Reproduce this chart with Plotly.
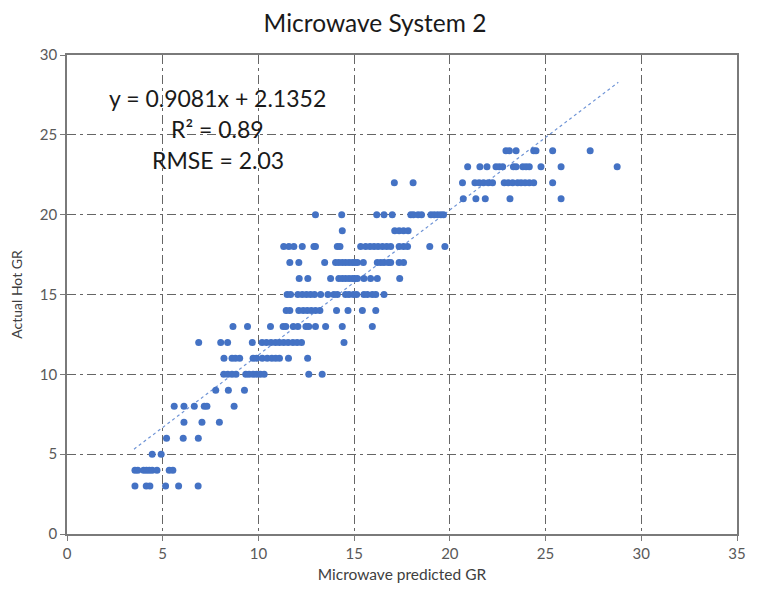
import plotly.graph_objects as go

# Microwave predicted GR values, grouped by actual hot GR (y)
pred_at_3 = [3.55, 4.14, 4.33, 5.15, 5.83, 6.85]
pred_at_4 = [3.55, 3.7, 4.0, 4.15, 4.3, 4.45, 4.7, 5.34, 5.53]
pred_at_5 = [4.45, 4.92]
pred_at_6 = [5.20, 6.07, 6.86]
pred_at_7 = [6.11, 7.05, 7.96]
pred_at_8 = [5.60, 6.11, 6.65, 7.17, 7.31, 8.73]
pred_at_9 = [7.77, 8.43, 9.27]
pred_at_10 = [8.19, 8.40, 8.62, 8.83, 9.34, 9.51, 9.72, 9.90, 10.10, 10.30, 12.63, 13.33]
pred_at_11 = [8.2, 8.62, 8.8, 9.02, 9.72, 9.9, 10.2, 10.46, 10.7, 10.9, 11.1, 11.57, 12.57]
pred_at_12 = [6.88, 8.03, 8.39, 9.68, 10.19, 10.42, 10.66, 10.89, 11.10, 11.32, 11.55,
              11.80, 12.02, 12.25, 14.47]
pred_at_13 = [8.67, 9.43, 10.63, 11.29, 11.43, 11.82, 12.06, 12.48, 12.63, 12.98, 13.51,
              14.38, 15.95]
pred_at_14 = [11.45, 11.64, 12.11, 12.34, 12.55, 12.76, 12.98, 13.21, 14.08, 14.68, 15.43, 16.13]
pred_at_15 = [11.50, 11.68, 12.06, 12.29, 12.51, 12.72, 12.93, 13.25, 13.63, 13.94, 14.12,
              14.55, 14.73, 14.96, 15.13, 15.51, 15.69, 15.95, 16.13, 16.56]
pred_at_16 = [12.13, 12.58, 13.77, 14.20, 14.38, 14.55, 14.73, 14.90, 15.03, 15.17, 15.51,
              15.86, 16.21, 17.38]
pred_at_17 = [11.64, 12.11, 13.46, 14.03, 14.20, 14.38, 14.55, 14.73, 14.90, 15.03, 15.17,
              15.48, 16.21, 16.39, 16.56, 16.78, 16.91, 17.35, 17.58]
pred_at_18 = [11.32, 11.59, 11.85, 12.29, 12.90, 12.98, 14.12, 14.26, 15.34, 15.60, 15.83,
              16.04, 16.25, 16.48, 16.70, 16.91, 17.35, 17.58, 17.79, 18.95, 19.74]
pred_at_19 = [14.38, 17.12, 17.35, 17.58, 17.82]
pred_at_20 = [12.98, 14.35, 16.18, 16.56, 16.99, 17.96, 18.10, 18.34, 18.52, 19.01, 19.18,
              19.36, 19.53, 19.67]
pred_at_21 = [20.70, 21.36, 21.85, 23.14, 25.81]
pred_at_22 = [17.1, 18.08, 20.66, 21.31, 21.53, 21.76, 22.01, 22.23, 22.84, 23.05, 23.28,
              23.54, 23.72, 23.93, 24.15, 24.38, 25.37]
pred_at_23 = [20.93, 21.57, 21.94, 22.41, 22.58, 22.76, 23.32, 23.46, 23.81, 23.98, 24.15,
              24.76, 25.81, 28.74]
pred_at_24 = [22.93, 23.11, 23.46, 24.38, 24.50, 25.37, 27.33]

actual_levels = list(range(3, 25))
pred_rows = [pred_at_3, pred_at_4, pred_at_5, pred_at_6, pred_at_7, pred_at_8, pred_at_9,
             pred_at_10, pred_at_11, pred_at_12, pred_at_13, pred_at_14, pred_at_15,
             pred_at_16, pred_at_17, pred_at_18, pred_at_19, pred_at_20, pred_at_21,
             pred_at_22, pred_at_23, pred_at_24]

# Trendline parameters and range
slope = 0.9081
intercept = 2.1352
trend_x = [3.5, 28.8]

x_ticks = [0, 5, 10, 15, 20, 25, 30, 35]
y_ticks = [0, 5, 10, 15, 20, 25, 30]

xs, ys = [], []
for lvl, row in zip(actual_levels, pred_rows):
    xs.extend(row)
    ys.extend([lvl] * len(row))

FONT = "Lato, 'Open Sans', sans-serif"
BLUE = "#4472C4"

# The page body adds an 8px offset, so the figure is sized to fill the rest of the window.
FIG_W, FIG_H = 749, 585

fig = go.Figure()
fig.add_trace(go.Scatter(
    x=trend_x, y=[slope * v + intercept for v in trend_x], mode="lines",
    line=dict(color="#6f94d6", width=1.2, dash="dot"), hoverinfo="skip", showlegend=False))
fig.add_trace(go.Scatter(
    x=xs, y=ys, mode="markers",
    marker=dict(color=BLUE, size=7, line=dict(width=0)), showlegend=False))

grid_dash = "9px,4px,3px,4px"
axis_common = dict(
    showline=True, linecolor="#7a7a7a", linewidth=1.6, mirror=True,
    showgrid=True, gridcolor="#666666", gridwidth=1.4, griddash=grid_dash,
    zeroline=False, ticks="outside", ticklen=5, tickcolor="#7a7a7a", tickwidth=1.3,
    tickfont=dict(family=FONT, size=15, color="#595959"),
    automargin=False,
)
fig.update_xaxes(range=[0, 35], tickvals=x_ticks, **axis_common,
                 title=dict(text="Microwave predicted GR", font=dict(family=FONT, size=15.5, color="#404040"), standoff=8))
fig.update_yaxes(range=[0, 30], tickvals=y_ticks, **axis_common,
                 title=dict(text="Actual Hot GR", font=dict(family=FONT, size=14, color="#404040"), standoff=14))

ann_font = dict(family=FONT, size=23, color="#1a1a1a")
fig.add_annotation(x=7.88, y=27.3, text="y = 0.9081x + 2.1352", showarrow=False, font=ann_font,
                   xref="x", yref="y")
fig.add_annotation(x=7.88, y=25.35, text="R² = 0.89", showarrow=False, font=ann_font,
                   xref="x", yref="y")
fig.add_annotation(x=7.88, y=23.4, text="RMSE = 2.03", showarrow=False, font=ann_font,
                   xref="x", yref="y")

fig.update_layout(
    width=FIG_W, height=FIG_H,
    margin=dict(l=59, r=20, t=47, b=59),
    paper_bgcolor="white", plot_bgcolor="white",
    title=dict(text="Microwave System 2", x=367 / FIG_W, xanchor="center",
               y=1 - 15 / FIG_H, yanchor="middle",
               xref="container", yref="container",
               font=dict(family=FONT, size=24.5, color="#1a1a1a")),
)

fig.write_html("out.html")
